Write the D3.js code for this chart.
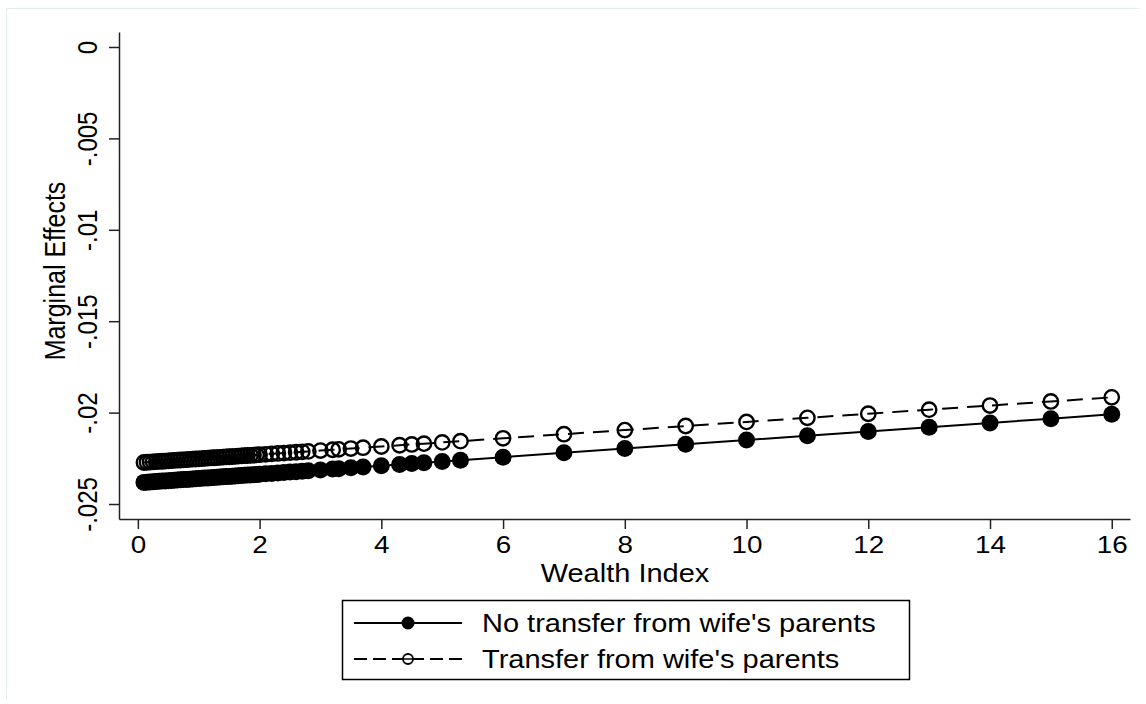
<!DOCTYPE html>
<html>
<head>
<meta charset="utf-8">
<script src="https://cdn.jsdelivr.net/npm/d3@7"></script>
<style>
	body { margin: 0; background: #fff; }
	text { font-family: "Liberation Sans", Arial, Helvetica, sans-serif; fill: #000; }
</style>
</head>
<body>
<svg id="chart" width="1146" height="704"></svg>
<script>

// wealth index values at which margins were evaluated
var wealth = [ 0.1, 0.15, 0.2, 0.25, 0.3, 0.35, 0.4, 0.45, 0.5, 0.55, 0.6, 0.65, 0.7, 0.75, 0.8, 0.85,
		0.9, 0.95, 1.0, 1.05, 1.1, 1.15, 1.2, 1.25, 1.3, 1.35, 1.4, 1.45, 1.5, 1.55, 1.6, 1.65, 1.7, 1.75,
		1.8, 1.85, 1.9, 1.95, 2.0, 2.1, 2.2, 2.3, 2.4, 2.5, 2.6, 2.7, 2.8, 3.0, 3.2, 3.3, 3.5, 3.7,
		4.0, 4.3, 4.5, 4.7, 5.0, 5.3, 6, 7, 8, 9, 10, 11, 12, 13, 14, 15, 16 ];

// marginal effects, no transfer from wife's parents
var noTransfer = [ -0.023817, -0.023805, -0.023793, -0.023782, -0.023770, -0.023758, -0.023746, -0.023735,
		-0.023723, -0.023711, -0.023700, -0.023688, -0.023676, -0.023665, -0.023653, -0.023641, -0.023629,
		-0.023618, -0.023606, -0.023594, -0.023583, -0.023571, -0.023559, -0.023548, -0.023536, -0.023524,
		-0.023512, -0.023501, -0.023489, -0.023477, -0.023466, -0.023454, -0.023442, -0.023431, -0.023419,
		-0.023407, -0.023395, -0.023384, -0.023372, -0.023349, -0.023325, -0.023302, -0.023278, -0.023255,
		-0.023232, -0.023208, -0.023185, -0.023138, -0.023091, -0.023068, -0.023021, -0.022974,
		-0.022904, -0.022834, -0.022787, -0.022740, -0.022670, -0.022600,
		-0.022436, -0.022202, -0.021968, -0.021734, -0.021500, -0.021266, -0.021032, -0.020798,
		-0.020564, -0.020330, -0.020096 ];

// marginal effects, transfer from wife's parents
var transfer = [ -0.022728, -0.022716, -0.022705, -0.022694, -0.022683, -0.022672, -0.022660, -0.022649,
		-0.022638, -0.022627, -0.022616, -0.022604, -0.022593, -0.022582, -0.022571, -0.022560, -0.022548,
		-0.022537, -0.022526, -0.022515, -0.022504, -0.022492, -0.022481, -0.022470, -0.022459, -0.022448,
		-0.022436, -0.022425, -0.022414, -0.022403, -0.022392, -0.022380, -0.022369, -0.022358, -0.022347,
		-0.022336, -0.022324, -0.022313, -0.022302, -0.022280, -0.022257, -0.022235, -0.022212, -0.022190,
		-0.022168, -0.022145, -0.022123, -0.022078, -0.022033, -0.022011, -0.021966, -0.021921,
		-0.021854, -0.021787, -0.021742, -0.021697, -0.021630, -0.021563,
		-0.021406, -0.021182, -0.020958, -0.020734, -0.020510, -0.020286, -0.020062, -0.019838,
		-0.019614, -0.019390, -0.019166 ];

var xTicks = [ 0, 2, 4, 6, 8, 10, 12, 14, 16 ];
var yTicks = [ 0, -0.005, -0.01, -0.015, -0.02, -0.025 ];
var yTickLabels = [ "0", "-.005", "-.01", "-.015", "-.02", "-.025" ];
var seriesNames = [ "No transfer from wife's parents", "Transfer from wife's parents" ];

var stretch = 1.16;

var svg = d3.select("#chart");

// faint outer frame
svg.append("path")
	.attr("d", "M6.5,700 V8.5 H1140")
	.attr("fill", "none")
	.attr("stroke", "#e4eced")
	.attr("stroke-width", 1);

var xScale = d3.scaleLinear().domain([ -0.31, 16.3 ]).range([ 119, 1130 ]);
var yScale = d3.scaleLinear().domain([ -0.02582, 0.00082 ]).range([ 519, 32 ]);

var makeRows = function(values) {
	return wealth.map(function(w, i) {
		return { x : w, y : values[i] };
	});
};

var line = d3.line()
	.x(function(d) { return xScale(d.x); })
	.y(function(d) { return yScale(d.y); });

// axes
var xAxis = svg.append("g")
	.attr("class", "x axis")
	.attr("transform", "translate(0,519)")
	.call(d3.axisBottom(xScale).tickValues(xTicks).tickSize(10).tickSizeOuter(0));

xAxis.selectAll("text")
	.attr("y", null)
	.attr("dy", null)
	.attr("transform", "translate(0,34) scale(" + stretch + ",1)")
	.style("font-size", "24px");

var yAxis = svg.append("g")
	.attr("class", "y axis")
	.attr("transform", "translate(119,0)")
	.call(d3.axisLeft(yScale).tickValues(yTicks).tickSize(10).tickSizeOuter(0)
		.tickFormat(function(d, i) { return yTickLabels[i]; }));

yAxis.selectAll("text")
	.attr("x", null)
	.attr("dy", null)
	.attr("text-anchor", "middle")
	.attr("transform", "translate(-22,0) scale(" + stretch + ",1) rotate(-90)")
	.style("font-size", "24px");

svg.selectAll(".axis path, .axis line")
	.attr("stroke", "#222")
	.attr("stroke-width", 1.5);

svg.selectAll(".axis text").attr("font-family", null).attr("fill", null);

// axis titles
svg.append("text")
	.attr("text-anchor", "middle")
	.attr("transform", "translate(625,582) scale(" + stretch + ",1)")
	.style("font-size", "25px")
	.text("Wealth Index");

svg.append("text")
	.attr("text-anchor", "middle")
	.attr("transform", "translate(65,271) scale(" + stretch + ",1) rotate(-90)")
	.style("font-size", "25px")
	.text("Marginal Effects");

// series
var plot = svg.append("g").attr("class", "plot");

plot.append("path")
	.datum(makeRows(noTransfer))
	.attr("fill", "none")
	.attr("stroke", "#000")
	.attr("stroke-width", 2)
	.attr("d", line);

plot.append("path")
	.datum(makeRows(transfer))
	.attr("fill", "none")
	.attr("stroke", "#000")
	.attr("stroke-width", 2)
	.attr("stroke-dasharray", "16,9")
	.attr("d", line);

plot.selectAll(".dotSolid")
	.data(makeRows(noTransfer))
	.enter().append("circle")
	.attr("class", "dotSolid")
	.attr("cx", function(d) { return xScale(d.x); })
	.attr("cy", function(d) { return yScale(d.y); })
	.attr("r", 8.5)
	.attr("fill", "#000");

plot.selectAll(".dotHollow")
	.data(makeRows(transfer))
	.enter().append("circle")
	.attr("class", "dotHollow")
	.attr("cx", function(d) { return xScale(d.x); })
	.attr("cy", function(d) { return yScale(d.y); })
	.attr("r", 7.2)
	.attr("fill", "none")
	.attr("stroke", "#000")
	.attr("stroke-width", 2.4);

// legend
var legend = svg.append("g").attr("class", "legend");

legend.append("rect")
	.attr("x", 342.5)
	.attr("y", 600.5)
	.attr("width", 567)
	.attr("height", 79)
	.attr("fill", "#fff")
	.attr("stroke", "#000")
	.attr("stroke-width", 1.5);

var rowY = [ 623, 659 ];

legend.selectAll(".legendLine")
	.data(seriesNames)
	.enter().append("line")
	.attr("class", "legendLine")
	.attr("x1", 354)
	.attr("x2", 462)
	.attr("y1", function(d, i) { return rowY[i]; })
	.attr("y2", function(d, i) { return rowY[i]; })
	.attr("stroke", "#000")
	.attr("stroke-width", 2)
	.attr("stroke-dasharray", function(d, i) { return i == 0 ? null : "13,6"; });

legend.append("circle")
	.attr("cx", 408)
	.attr("cy", rowY[0])
	.attr("r", 6.5)
	.attr("fill", "#000");

legend.append("circle")
	.attr("cx", 408)
	.attr("cy", rowY[1])
	.attr("r", 5)
	.attr("fill", "#fff")
	.attr("stroke", "#000")
	.attr("stroke-width", 1.8);

legend.append("line")
	.attr("x1", 403)
	.attr("x2", 413)
	.attr("y1", rowY[1])
	.attr("y2", rowY[1])
	.attr("stroke", "#000")
	.attr("stroke-width", 1.5);

legend.selectAll(".legendText")
	.data(seriesNames)
	.enter().append("text")
	.attr("class", "legendText")
	.attr("transform", function(d, i) { return "translate(482," + (rowY[i] + 9) + ") scale(" + stretch + ",1)"; })
	.style("font-size", "25px")
	.text(function(d) { return d; });

</script>
</body>
</html>
